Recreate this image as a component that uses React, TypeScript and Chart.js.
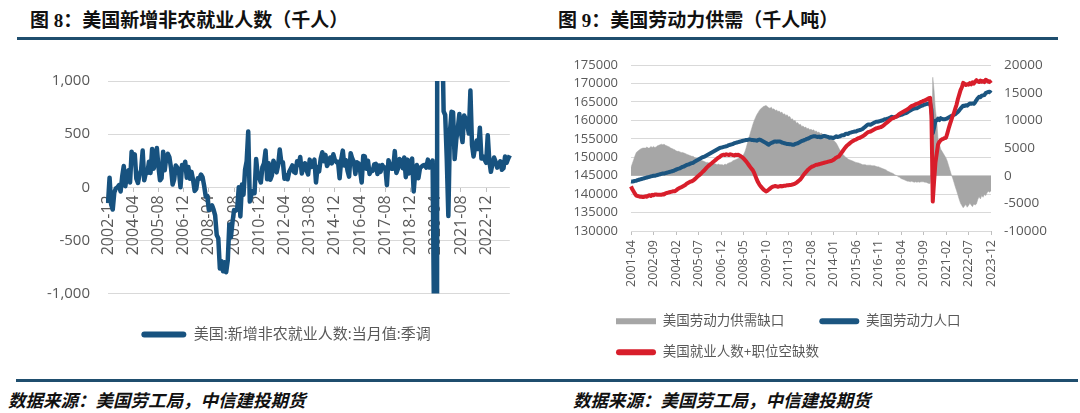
import React, { useEffect, useRef } from 'react';
import { Chart, registerables } from 'chart.js';

Chart.register(...registerables);

const FONT = '"Open Sans", "Noto Sans CJK SC", sans-serif';
const TITLE_FONT = '"Liberation Serif", "Noto Sans CJK SC", serif';
const AXIS_COLOR = '#595959';
const GRID_COLOR = '#d9d9d9';
const TICK_MARK_COLOR = '#bfbfbf';
const RULE_COLOR = '#1f4e6e';

// ---------- Figure 8: US nonfarm payrolls, monthly change (thousands) ----------
const NFP_TITLE = '图 8：美国新增非农就业人数（千人）';
const NFP_SERIES_NAME = '美国:新增非农就业人数:当月值:季调';
const NFP_START_YEAR = 2002;
const NFP_START_MONTH = 12;
const NFP_TICK_LABELS = ['2002-12', '2004-04', '2005-08', '2006-12', '2008-04', '2009-08', '2010-12', '2012-04', '2013-08', '2014-12', '2016-04', '2017-08', '2018-12', '2020-04', '2021-08', '2022-12'];
const NFP_Y_TICKS = [-1000, -500, 0, 500, 1000];
const NFP_VALUES = [
  -150,
  90, -160, -210, -50, -10, 0, 20, -40, 100, 200, 10, 115,
  160, 45, 335, 250, 310, 80, 40, 120, 160, 345, 65, 135,
  135, 240, 135, 360, 175, 245, 370, 195, 65, 85, 335, 160,
  280, 315, 280, 180, 25, 75, 205, 185, 155, 0, 210, 170,
  240, 90, 190, 80, 145, 70, -35, -15, 85, 80, 120, 95,
  15, -85, -80, -215, -185, -170, -210, -265, -450, -480, -765, -695,
  -790, -705, -800, -690, -350, -470, -330, -215, -220, -205, 0, -275,
  25, -70, 165, 245, 525, -135, -70, -35, -55, 265, 120, 85,
  45, 190, 225, 345, 75, 225, 70, 110, 250, 210, 140, 210,
  355, 235, 235, 80, 115, 75, 145, 175, 205, 145, 135, 245,
  210, 285, 130, 195, 225, 160, 120, 260, 190, 210, 260, 45,
  190, 150, 270, 330, 245, 305, 200, 230, 280, 225, 310, 255,
  235, 240, 85, 260, 345, 205, 255, 155, 100, 320, 270, 240,
  125, 235, 225, 155, 45, 295, 290, 175, 250, 125, 165, 155,
  215, 220, 125, 205, 145, 210, 185, 185, 20, 255, 205, 175,
  175, 340, 135, 175, 265, 250, 180, 280, 95, 260, 130, 230,
  270, -40, 150, 210, 85, 180, 195, 205, 210, 185, 260, 185,
  215, 250, -1375, -20480, 2830, 4845, 1725, 1585, 715, 680, 265, -270,
  520, 710, 705, 265, 445, 555, 690, 515, 425, 675, 645, 590,
  505, 910, 400, 290, 380, 440, 360, 560, 270, 290, 260, 230,
  490, 250, 145, 220, 280, 240, 185, 210, 245, 165, 180, 290,
  230, 270, 300,
];

// ---------- Figure 9: US labour supply & demand (thousands) ----------
const LABOR_TITLE = '图 9：美国劳动力供需（千人吨）';
const GAP_NAME = '美国劳动力供需缺口';
const FORCE_NAME = '美国劳动力人口';
const DEMAND_NAME = '美国就业人数+职位空缺数';
const LABOR_START_YEAR = 2001;
const LABOR_START_MONTH = 4;
const LABOR_TICK_LABELS = ['2001-04', '2002-09', '2004-02', '2005-07', '2006-12', '2008-05', '2009-10', '2011-03', '2012-08', '2014-01', '2015-06', '2016-11', '2018-04', '2019-09', '2021-02', '2022-07', '2023-12'];
const LEFT_AXIS_TICKS = [130000, 135000, 140000, 145000, 150000, 155000, 160000, 165000, 170000, 175000];
const RIGHT_AXIS_TICKS = [-10000, -5000, 0, 5000, 10000, 15000, 20000];

const LABOR_FORCE = [
  143450, 143400, 143500, 143600, 143650, 143800, 143900, 144000, 144100,
  144200, 144300, 144400, 144500, 144600, 144700, 144800, 144900, 145000, 145000, 145100, 145200,
  145300, 145400, 145500, 145600, 145600, 145700, 145800, 145900, 146000, 146100, 146200, 146300,
  146500, 146600, 146800, 146900, 147000, 147200, 147400, 147500, 147700, 147900, 148000, 148100,
  148300, 148400, 148500, 148800, 149000, 149200, 149400, 149600, 149800, 150000, 150100, 150300,
  150500, 150700, 150900, 151100, 151300, 151500, 151700, 151900, 152100, 152300, 152500, 152600,
  152700, 152800, 152900, 153000, 153100, 153300, 153400, 153500, 153600, 153800, 153900, 154000,
  154100, 154200, 154300, 154400, 154500, 154600, 154700, 154700, 154800, 154800, 154700, 154700,
  154600, 154600, 154500, 154700, 154800, 154700, 154500, 154300, 154100, 153900, 153600, 153400,
  153700, 153900, 154000, 154200, 154300, 154200, 154300, 154300, 154200, 154000, 153900, 153800,
  153700, 153600, 153600, 153500, 153500, 153400, 153400, 153600, 153700, 153800, 154000, 154200,
  154400, 154500, 154700, 154800, 155000, 155100, 155300, 155500, 155600, 155700, 155700, 155600,
  155500, 155600, 155400, 155500, 155700, 155800, 155700, 155600, 155500, 155300, 155400, 155300,
  155200, 155400, 155700, 155500, 155600, 155700, 155900, 156000, 156000, 156300, 156400, 156300,
  156600, 156700, 156800, 156900, 157000, 157000, 157200, 157300, 157400, 157500, 157700, 158000,
  158300, 158600, 158900, 158900, 158800, 159000, 159200, 159400, 159600, 159600, 159700, 159800,
  159900, 160000, 160200, 160300, 160300, 160500, 160600, 160800, 161000, 160800, 160900, 161000,
  161100, 161300, 161400, 161500, 161600, 161800, 161900, 162000, 162200, 162500, 162700, 162900,
  163100, 163200, 163300, 163300, 163500, 163700, 163900, 164000, 164200, 164300, 164400, 164500,
  164600, 164700, 162900, 156500, 158000, 159900, 160000, 160500, 160100, 160600, 160400, 160300,
  160300, 160400, 160600, 160800, 161000, 161200, 161300, 161500, 161700, 162000, 162300, 162700,
  163200, 163600, 164000, 163900, 164100, 164000, 164300, 164600, 164500, 164600, 164500, 164900,
  165500, 166000, 166400, 166300, 166700, 166800, 166900, 167400, 167600, 167700, 167800, 167400,
];

const EMPLOYED_PLUS_OPENINGS = [
  142100, 141300, 140700, 140100, 139600, 139500, 139400, 139300, 139300,
  139200, 139300, 139400, 139300, 139600, 139700, 139500, 139800, 139700, 139900, 139900, 139800,
  139800, 139800, 139800, 140000, 139900, 140200, 140300, 140400, 140500, 140600, 140700, 140800,
  140800, 141000, 141300, 141500, 141700, 141900, 142100, 142300, 142500, 142800, 143000, 143200,
  143400, 143500, 143700, 144000, 144300, 144700, 145000, 145300, 145600, 146000, 146300, 146700,
  147100, 147500, 147800, 148100, 148400, 148700, 149000, 149300, 149600, 149900, 150100, 150400,
  150600, 150700, 150600, 150800, 150700, 150600, 150800, 150700, 150600, 150500, 150700, 150600,
  150700, 150500, 150300, 150000, 149700, 149300, 148900, 148400, 147900, 147400, 146900, 146500,
  145800, 144900, 144000, 143200, 142600, 142100, 141700, 141300, 141000, 140750, 140900, 141200,
  141500, 141800, 142000, 142100, 142200, 142100, 142000, 142100, 142200, 142100, 142200, 142300,
  142300, 142400, 142400, 142500, 142500, 142600, 142700, 142900, 143100, 143400, 143700, 144000,
  144500, 145000, 145500, 145900, 146300, 146700, 147000, 147300, 147500, 147600, 147800, 148000,
  148000, 148100, 148200, 148300, 148400, 148500, 148600, 148700, 148800, 148900, 149000, 149100,
  149300, 149600, 149900, 150100, 150200, 150700, 151200, 151700, 152200, 152700, 153100, 153400,
  153700, 154000, 154300, 154500, 154700, 154800, 155000, 155200, 155300, 155500, 155700, 155900,
  156200, 156500, 156800, 156900, 157000, 157200, 157400, 157600, 157800, 157900, 158000, 158100,
  158200, 158400, 158700, 159000, 159300, 159600, 159900, 160200, 160500, 160600, 160800, 161000,
  161100, 161500, 161800, 162000, 162200, 162400, 162600, 162800, 163000, 163300, 163600, 163900,
  164000, 164200, 164400, 164500, 164600, 164800, 165000, 165100, 165300, 165400, 165600, 165800,
  166000, 166100, 161300, 138000, 143500, 148500, 151000, 153500, 154200, 154600, 154900, 155000,
  155200, 155300, 156500, 157800, 159000, 160100, 161200, 162000, 163200, 164300, 165800, 167000,
  168200, 169000, 170200, 169900, 169600, 169800, 169700, 170100, 169800, 170300, 170000, 170500,
  170900, 170600, 170400, 170800, 170500, 170700, 170400, 171000, 170800, 170500, 170600, 170100,
];

const SUPPLY_GAP = [
  1500, 2200, 2900, 3600, 4200, 4400, 4600, 4800, 4900,
  5000, 5000, 5000, 5200, 5000, 5000, 5300, 5100, 5300, 5100, 5200, 5400,
  5500, 5600, 5700, 5600, 5700, 5500, 5400, 5300, 5200, 5000, 4900, 4800,
  4700, 4500, 4400, 4400, 4300, 4200, 4200, 4100, 4000, 3900, 3800, 3700,
  3600, 3500, 3500, 3300, 3200, 3100, 3000, 2900, 2800, 2700, 2600, 2500,
  2400, 2400, 2300, 2300, 2200, 2300, 2200, 2100, 2000, 2100, 2000, 2000,
  2000, 1900, 2100, 2000, 2200, 2300, 2400, 2500, 2700, 2800, 2900, 3000,
  3100, 3300, 3500, 3600, 3800, 4300, 5000, 5900, 6800, 7600, 8400, 9200,
  9900, 10500, 11000, 11400, 11800, 12100, 12300, 12500, 12600, 12700, 12500, 12300,
  12200, 12400, 12000, 12100, 11800, 11900, 11600, 11700, 11400, 11500, 11100, 11200,
  10900, 11000, 10600, 10700, 10200, 10300, 9900, 10000, 9500, 9600, 9200, 9300,
  8900, 9000, 8700, 8800, 8500, 8600, 8300, 8400, 8200, 8300, 8000, 8100,
  7800, 7900, 7600, 7700, 7400, 7500, 7200, 7300, 7000, 7100, 6800, 6700,
  6400, 6200, 5900, 5500, 5000, 4600, 4200, 3900, 3600, 3400, 3200, 3000,
  2900, 2800, 2700, 2600, 2500, 2400, 2350, 2300, 2200, 2100, 2000, 2000,
  2000, 1900, 1900, 1900, 1900, 1800, 1800, 1800, 1700, 1600, 1600, 1500,
  1400, 1300, 1200, 1100, 1000, 800, 700, 600, 500, 400, 200, 100,
  0, -200, -300, -500, -600, -700, -800, -900, -1000, -1000, -1100, -1000,
  -1100, -1200, -1100, -1200, -1100, -1200, -1100, -1100, -1100, -1200, -1200, -1300,
  -1400, -1400, 1600, 17800, 15400, 11900, 10000, 6600, 5700, 4800, 4400, 4000,
  3600, 3200, 2600, 1800, 1000, 200, -400, -1200, -2000, -2700, -3500, -4300,
  -5000, -5400, -5800, -5500, -5200, -5700, -5400, -5000, -5300, -5600, -5100, -5300,
  -5100, -4300, -3800, -4200, -3600, -3900, -3400, -3600, -3100, -2800, -3000, -2700,
];

const SOURCE_TEXT = '数据来源：美国劳工局，中信建投期货';

function monthLabels(startYear: number, startMonth: number, count: number): string[] {
  const out: string[] = [];
  for (let i = 0; i < count; i++) {
    const t = startYear * 12 + (startMonth - 1) + i;
    const y = Math.floor(t / 12);
    const m = (t % 12) + 1;
    out.push(`${y}-${String(m).padStart(2, '0')}`);
  }
  return out;
}

function legendItems(chart: any, extraText: Record<number, string> = {}) {
  return chart.data.datasets.map((ds: any, i: number) => ({
    text: ds.label + (extraText[i] || ''),
    fillStyle: ds.legendColor,
    strokeStyle: ds.legendColor,
    lineWidth: 0,
    borderRadius: ds.legendRadius || 0,
    fontColor: AXIS_COLOR,
    hidden: false,
    datasetIndex: i,
  }));
}

// Nudges the legend block sideways after layout (to match the reference's legend placement).
const legendShift = {
  id: 'legendShift',
  afterLayout(chart: any, _args: any, opts: any) {
    const l = chart.legend;
    if (l && opts && opts.dx) {
      l.left += opts.dx;
      l.right += opts.dx;
    }
  },
};

function NfpChart() {
  const ref = useRef<HTMLCanvasElement | null>(null);
  useEffect(() => {
    if (!ref.current) return;
    const labels = monthLabels(NFP_START_YEAR, NFP_START_MONTH, NFP_VALUES.length);
    const color = '#17527f';
    const chart = new Chart(ref.current, {
      type: 'line',
      plugins: [legendShift],
      data: {
        labels,
        datasets: [
          {
            label: NFP_SERIES_NAME,
            data: NFP_VALUES,
            borderColor: color,
            backgroundColor: color,
            borderWidth: 4.5,
            pointRadius: 0,
            tension: 0,
            borderJoinStyle: 'round',
            fill: false,
            legendColor: color,
            legendRadius: 3,
          } as any,
        ],
      },
      options: {
        responsive: false,
        animation: false,
        events: [],
        layout: { padding: { left: 0, right: 20, top: 10, bottom: 0 } },
        plugins: {
          legendShift: { dx: 10 },
          legend: {
            position: 'bottom',
            labels: {
              font: { family: FONT, size: 15 },
              color: AXIS_COLOR,
              boxWidth: 45,
              boxHeight: 6,
              padding: 33.5,
              generateLabels: (c: any) => legendItems(c),
            },
          },
          tooltip: { enabled: false },
        },
        scales: {
          x: {
            type: 'category',
            position: { y: 0 } as any,
            grid: {
              drawOnChartArea: false,
              drawTicks: true,
              tickLength: 5,
              tickColor: (ctx: any) => (NFP_TICK_LABELS.includes(labels[ctx.index]) ? TICK_MARK_COLOR : 'rgba(0,0,0,0)'),
            },
            border: { display: false },
            ticks: {
              autoSkip: false,
              maxRotation: 90,
              minRotation: 90,
              padding: 3,
              font: { family: FONT, size: 16 },
              color: AXIS_COLOR,
              callback: (_v: any, i: number) => (NFP_TICK_LABELS.includes(labels[i]) ? labels[i] : ''),
            },
          },
          y: {
            min: NFP_Y_TICKS[0],
            max: NFP_Y_TICKS[NFP_Y_TICKS.length - 1],
            afterBuildTicks: (s: any) => { s.ticks = NFP_Y_TICKS.map((v) => ({ value: v })); },
            afterFit: (s: any) => { s.width = 68; },
            ticks: {
              autoSkip: false,
              padding: 18,
              font: { family: FONT, size: 15 },
              color: AXIS_COLOR,
              callback: (v: any) => Number(v).toLocaleString('en-US'),
            },
            grid: { color: GRID_COLOR, drawTicks: false, lineWidth: 1 },
            border: { display: false },
          },
        },
      } as any,
    });
    return () => chart.destroy();
  }, []);
  return (
    <canvas
      ref={ref}
      width={492}
      height={298}
      style={{ position: 'absolute', left: 40, top: 54, width: 492, height: 298 }}
    />
  );
}

function LaborChart() {
  const ref = useRef<HTMLCanvasElement | null>(null);
  useEffect(() => {
    if (!ref.current) return;
    const labels = monthLabels(LABOR_START_YEAR, LABOR_START_MONTH, LABOR_FORCE.length);
    const gray = '#a6a6a6';
    const blue = '#1b5580';
    const red = '#d81e2b';
    const chart = new Chart(ref.current, {
      type: 'line',
      plugins: [legendShift],
      data: {
        labels,
        datasets: [
          {
            label: GAP_NAME,
            data: SUPPLY_GAP,
            yAxisID: 'y1',
            fill: 'origin',
            backgroundColor: gray,
            borderColor: gray,
            borderWidth: 0.5,
            pointRadius: 0,
            tension: 0,
            order: 3,
            legendColor: gray,
            legendRadius: 0,
          } as any,
          {
            label: FORCE_NAME,
            data: LABOR_FORCE,
            yAxisID: 'y',
            borderColor: blue,
            backgroundColor: blue,
            borderWidth: 4,
            pointRadius: 0,
            tension: 0,
            borderJoinStyle: 'round',
            fill: false,
            order: 2,
            legendColor: blue,
            legendRadius: 3,
          } as any,
          {
            label: DEMAND_NAME,
            data: EMPLOYED_PLUS_OPENINGS,
            yAxisID: 'y',
            borderColor: red,
            backgroundColor: red,
            borderWidth: 4,
            pointRadius: 0,
            tension: 0,
            borderJoinStyle: 'round',
            fill: false,
            order: 1,
            legendColor: red,
            legendRadius: 3,
          } as any,
        ],
      },
      options: {
        responsive: false,
        animation: false,
        events: [],
        layout: { padding: { left: 6, right: 13, top: 8, bottom: 0 } },
        plugins: {
          legendShift: { dx: 27.5 },
          legend: {
            position: 'bottom',
            align: 'start',
            labels: {
              font: { family: FONT, size: 13.5 },
              color: AXIS_COLOR,
              boxWidth: 40,
              boxHeight: 6,
              padding: 17.5,
              generateLabels: (c: any) => legendItems(c, { 0: '     ' }),
            },
          },
          tooltip: { enabled: false },
        },
        scales: {
          x: {
            type: 'category',
            position: 'bottom',
            afterFit: (s: any) => { s.height = 66; },
            grid: {
              drawOnChartArea: false,
              drawTicks: true,
              tickLength: 4,
              tickColor: (ctx: any) => (LABOR_TICK_LABELS.includes(labels[ctx.index]) ? TICK_MARK_COLOR : 'rgba(0,0,0,0)'),
            },
            border: { display: false },
            ticks: {
              autoSkip: false,
              maxRotation: 90,
              minRotation: 90,
              padding: 5,
              font: { family: FONT, size: 12.5 },
              color: AXIS_COLOR,
              callback: (_v: any, i: number) => (LABOR_TICK_LABELS.includes(labels[i]) ? labels[i] : ''),
            },
          },
          y: {
            position: 'left',
            min: LEFT_AXIS_TICKS[0],
            max: LEFT_AXIS_TICKS[LEFT_AXIS_TICKS.length - 1],
            afterBuildTicks: (s: any) => { s.ticks = LEFT_AXIS_TICKS.map((v) => ({ value: v })); },
            afterFit: (s: any) => { s.width = 60; },
            ticks: {
              autoSkip: false,
              padding: 13,
              font: { family: FONT, size: 13 },
              color: AXIS_COLOR,
              callback: (v: any) => String(v),
            },
            grid: { color: GRID_COLOR, drawTicks: false, lineWidth: 1 },
            border: { display: false },
          },
          y1: {
            position: 'right',
            min: RIGHT_AXIS_TICKS[0],
            max: RIGHT_AXIS_TICKS[RIGHT_AXIS_TICKS.length - 1],
            afterBuildTicks: (s: any) => { s.ticks = RIGHT_AXIS_TICKS.map((v) => ({ value: v })); },
            afterFit: (s: any) => { s.width = 56; },
            ticks: {
              autoSkip: false,
              padding: 13,
              font: { family: FONT, size: 13.5 },
              color: AXIS_COLOR,
              callback: (v: any) => String(v),
            },
            grid: { drawOnChartArea: false, drawTicks: false },
            border: { display: false },
          },
        },
      } as any,
    });
    return () => chart.destroy();
  }, []);
  return (
    <canvas
      ref={ref}
      width={495}
      height={325}
      style={{ position: 'absolute', left: 565, top: 44, width: 495, height: 325 }}
    />
  );
}

const titleStyle: React.CSSProperties = {
  position: 'absolute',
  top: 11,
  fontFamily: TITLE_FONT,
  fontWeight: 'bold',
  fontSize: 19,
  lineHeight: '19px',
  color: '#111',
  whiteSpace: 'nowrap',
  margin: 0,
};

const sourceStyle: React.CSSProperties = {
  position: 'absolute',
  top: 391,
  fontFamily: '"Noto Sans CJK SC", sans-serif',
  fontWeight: 'bold',
  fontStyle: 'italic',
  fontSize: 17.5,
  lineHeight: '17px',
  color: '#111',
  whiteSpace: 'nowrap',
};

export default function App() {
  return (
    <div
      style={{
        position: 'absolute',
        left: 0,
        top: 0,
        width: 1080,
        height: 413,
        background: '#ffffff',
        overflow: 'hidden',
      }}
    >
      <div style={{ ...titleStyle, left: 30 }}>{NFP_TITLE}</div>
      <div style={{ ...titleStyle, left: 558 }}>{LABOR_TITLE}</div>
      <div style={{ position: 'absolute', left: 17, top: 37, width: 1041, height: 3, background: RULE_COLOR }} />
      <NfpChart />
      <LaborChart />
      <div style={{ position: 'absolute', left: 16, top: 379, width: 1062, height: 3, background: RULE_COLOR }} />
      <div style={{ ...sourceStyle, left: 8 }}>{SOURCE_TEXT}</div>
      <div style={{ ...sourceStyle, left: 573 }}>{SOURCE_TEXT}</div>
    </div>
  );
}
